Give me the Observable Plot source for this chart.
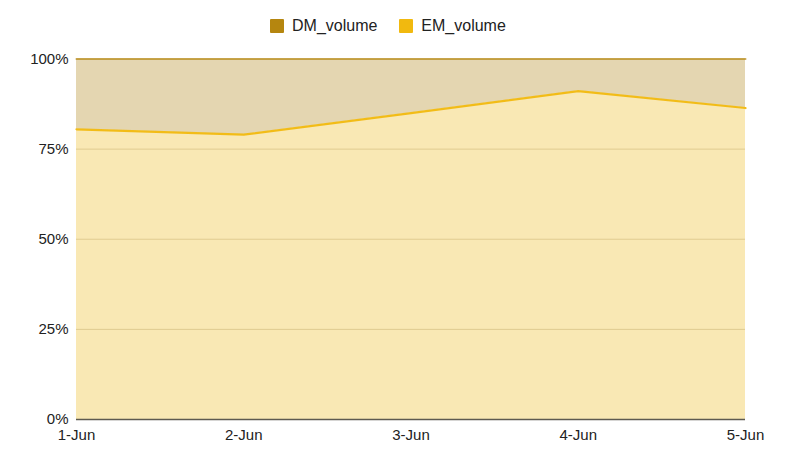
<!DOCTYPE html>
<html>
<head>
<meta charset="utf-8">
<script src="https://cdn.jsdelivr.net/npm/d3@7"></script>
<script src="https://cdn.jsdelivr.net/npm/@observablehq/plot@0.6"></script>
<style>
  body { margin: 0; background: #fff; font-family: "Liberation Sans", Arial, sans-serif; }
  #legend { height: 40px; display: flex; align-items: center; padding-left: 270px; padding-top: 12px; box-sizing: border-box; font-size: 16px; color: #222; }
  .item { display: flex; align-items: center; margin-right: 22px; height: 28px; }
  .sw { width: 14px; height: 14px; margin-right: 8px; border-radius: 1px; }
</style>
</head>
<body>
<div id="legend"></div>
<div id="chart"></div>
<script>
const dates = ["1-Jun", "2-Jun", "3-Jun", "4-Jun", "5-Jun"];
const seriesNames = ["DM_volume", "EM_volume"];
const dmVolume = [19.5, 21.0, 15.0, 8.9, 13.6];
const emVolume = [80.5, 79.0, 85.0, 91.1, 86.4];
const yTicks = [0, 0.25, 0.5, 0.75, 1];

const lineColors = {DM_volume: "#b5860f", EM_volume: "#f1b90f"};
const fillColors = {DM_volume: "#e4d6b1", EM_volume: "#f9e8b4"};
const stackOrder = ["EM_volume", "DM_volume"];

const rows = [];
dates.forEach((d, i) => {
  rows.push({i, date: d, series: "DM_volume", value: dmVolume[i]});
  rows.push({i, date: d, series: "EM_volume", value: emVolume[i]});
});

const legend = document.getElementById("legend");
for (const s of seriesNames) {
  const it = document.createElement("div");
  it.className = "item";
  it.innerHTML = `<div class="sw" style="background:${lineColors[s]}"></div><span>${s}</span>`;
  legend.appendChild(it);
}

const chart = Plot.plot({
  width: 806,
  height: 431,
  marginTop: 18.5,
  marginBottom: 52,
  marginLeft: 76,
  marginRight: 61,
  style: {fontFamily: "'Liberation Sans', Arial, sans-serif", fontSize: "15px", color: "#222", background: "#fff"},
  x: {type: "linear", domain: [0, dates.length - 1], ticks: dates.map((d, i) => i), tickFormat: i => dates[i], tickSize: 0, tickPadding: 10, label: null},
  y: {domain: [0, 1], ticks: yTicks, tickFormat: d3.format(".0%"), tickSize: 0, tickPadding: 8, label: null},
  marks: [
    Plot.areaY(rows, Plot.stackY({x: "i", y: "value", z: "series", fill: d => fillColors[d.series], order: stackOrder, offset: "normalize"})),
    Plot.gridY(yTicks.filter(t => t > 0 && t < 1), {stroke: "#d9c487", strokeOpacity: 0.8, strokeWidth: 1}),
    Plot.lineY(rows, Plot.stackY2({x: "i", y: "value", z: "series", stroke: d => lineColors[d.series], order: stackOrder, offset: "normalize", strokeWidth: d => d.series === "EM_volume" ? 2.2 : 2, strokeOpacity: d => d.series === "EM_volume" ? 0.95 : 0.7})),
    Plot.ruleY([0], {stroke: "#5e5a50", strokeWidth: 1.5}),
    Plot.axisX({ticks: dates.map((d, i) => i), tickFormat: i => dates[i], tickSize: 0, tickPadding: 10, label: null}),
    Plot.axisY({ticks: yTicks, tickFormat: d3.format(".0%"), tickSize: 0, tickPadding: 8, label: null})
  ]
});
document.getElementById("chart").appendChild(chart);
</script>
</body>
</html>
